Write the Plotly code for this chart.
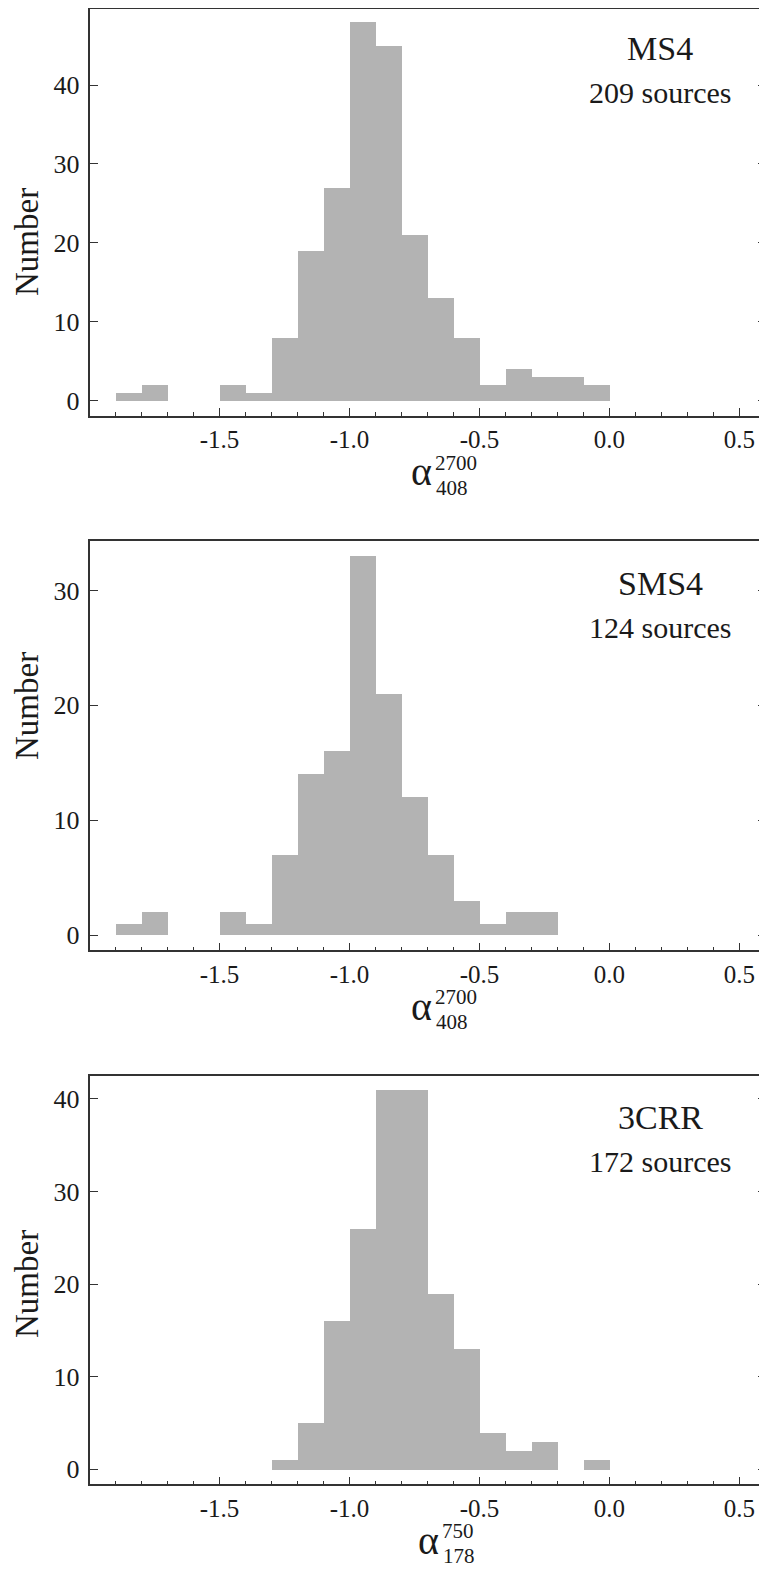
import plotly.graph_objects as go

# ---------------- data ----------------
bin_left = [-1.9, -1.8, -1.7, -1.6, -1.5, -1.4, -1.3, -1.2, -1.1, -1.0,
            -0.9, -0.8, -0.7, -0.6, -0.5, -0.4, -0.3, -0.2, -0.1]
bin_width = 0.1

ms4_counts = [1, 2, 0, 0, 2, 1, 8, 19, 27, 48, 45, 21, 13, 8, 2, 4, 3, 3, 2]
sms4_counts = [1, 2, 0, 0, 2, 1, 7, 14, 16, 33, 21, 12, 7, 3, 1, 2, 2, 0, 0]
crr_counts = [0, 0, 0, 0, 0, 0, 1, 5, 16, 26, 41, 41, 19, 13, 4, 2, 3, 0, 1]

panel_names = ["MS4", "SMS4", "3CRR"]
panel_sources = ["209 sources", "124 sources", "172 sources"]
panel_sup = ["2700", "2700", "750"]
panel_sub = ["408", "408", "178"]

x_major_vals = [-1.5, -1.0, -0.5, 0.0, 0.5]
x_major_text = ["-1.5", "-1.0", "-0.5", "0.0", "0.5"]
x_minor_vals = [round(-1.9 + 0.1 * i, 1) for i in range(25)]
y_tick_sets = [[0, 10, 20, 30, 40], [0, 10, 20, 30], [0, 10, 20, 30, 40]]
y_ranges = [[-1.9, 49.64], [-1.31, 34.3], [-1.62, 42.5]]
x_range = [-2.0, 0.606]

# ---------------- layout helpers ----------------
OFF = 8  # page body margin of the browser
W, H = 767 - OFF, 1569 - OFF
FONT = "Liberation Serif"
BAR_COLOR = "#b3b3b3"
AX_COLOR = "#333333"
TXT_COLOR = "#1a1a1a"

panels_px = [(9, 415.7), (541, 950.3), (1075.7, 1484.3)]  # (top, bottom) in window px
left_px = 89.5


def px_x(x):
    return (x - OFF) / W


def px_y(y):
    return 1 - (y - OFF) / H


fig = go.Figure()
all_counts = [ms4_counts, sms4_counts, crr_counts]
centers = [b + bin_width / 2 for b in bin_left]

annotations = []
ytitle_centers = [242, 706, 1284]
label_tops = [6, 541, 1075.7]
for i, counts in enumerate(all_counts):
    xa = "x" if i == 0 else f"x{i+1}"
    ya = "y" if i == 0 else f"y{i+1}"
    fig.add_trace(go.Bar(
        x=centers, y=counts, width=bin_width,
        marker=dict(color=BAR_COLOR, line=dict(width=0)),
        xaxis=xa, yaxis=ya, showlegend=False, hoverinfo="x+y",
    ))
    top, bottom = panels_px[i]
    xkey = "xaxis" if i == 0 else f"xaxis{i+1}"
    ykey = "yaxis" if i == 0 else f"yaxis{i+1}"
    fig.layout[xkey] = dict(
        domain=[px_x(left_px), 1.0], range=x_range, anchor=ya,
        automargin=False,
        showline=True, linecolor=AX_COLOR, linewidth=1.5, mirror=True,
        showgrid=False, zeroline=False,
        tickmode="array", tickvals=x_major_vals, ticktext=x_major_text,
        ticks="inside", ticklen=8, tickwidth=1, tickcolor=AX_COLOR,
        minor=dict(tickmode="array", tickvals=x_minor_vals, ticks="inside",
                   ticklen=4, tickwidth=1, tickcolor=AX_COLOR, showgrid=False),
        tickfont=dict(family=FONT, size=25, color=TXT_COLOR),
        ticklabelstandoff=1,
        fixedrange=True,
    )
    fig.layout[ykey] = dict(
        domain=[px_y(bottom), min(1.0, px_y(top))], range=y_ranges[i], anchor=xa,
        automargin=False,
        showline=True, linecolor=AX_COLOR, linewidth=1.5, mirror="ticks",
        showgrid=False, zeroline=False,
        tickmode="array", tickvals=y_tick_sets[i],
        ticks="inside", ticklen=9, tickwidth=1, tickcolor=AX_COLOR,
        tickfont=dict(family=FONT, size=26, color=TXT_COLOR),
        ticklabelstandoff=3,
        fixedrange=True,
    )

    lt = label_tops[i]
    # Panel labels
    annotations.append(dict(
        text=panel_names[i], x=px_x(660), y=px_y(lt + 42),
        xref="paper", yref="paper", xanchor="center", yanchor="middle",
        showarrow=False, borderpad=0,
        font=dict(family=FONT, size=34, color=TXT_COLOR)))
    annotations.append(dict(
        text=panel_sources[i], x=px_x(660), y=px_y(lt + 86),
        xref="paper", yref="paper", xanchor="center", yanchor="middle",
        showarrow=False, borderpad=0,
        font=dict(family=FONT, size=30, color=TXT_COLOR)))

    # y-axis title
    annotations.append(dict(
        text="Number", x=px_x(27), y=px_y(ytitle_centers[i]),
        xref="paper", yref="paper", xanchor="center", yanchor="middle",
        textangle=-90, showarrow=False, borderpad=0,
        font=dict(family=FONT, size=33, color=TXT_COLOR)))

    # x-axis title: alpha with stacked super/subscript
    alpha_right = [433, 433, 440][i]
    annotations.append(dict(
        text="α", x=px_x(alpha_right), y=px_y(bottom + 56),
        xref="paper", yref="paper", xanchor="right", yanchor="middle",
        showarrow=False, borderpad=0,
        font=dict(family=FONT, size=40, color=TXT_COLOR)))
    annotations.append(dict(
        text=panel_sup[i], x=px_x(alpha_right + 1), y=px_y(bottom + 47),
        xref="paper", yref="paper", xanchor="left", yanchor="middle",
        showarrow=False, borderpad=0,
        font=dict(family=FONT, size=21, color=TXT_COLOR)))
    annotations.append(dict(
        text=panel_sub[i], x=px_x(alpha_right + 2), y=px_y(bottom + 72),
        xref="paper", yref="paper", xanchor="left", yanchor="middle",
        showarrow=False, borderpad=0,
        font=dict(family=FONT, size=21, color=TXT_COLOR)))

fig.update_layout(
    width=W, height=H,
    margin=dict(l=0, r=0, t=0, b=0, autoexpand=False),
    paper_bgcolor="white", plot_bgcolor="white",
    bargap=0, barmode="overlay",
    annotations=annotations,
    font=dict(family=FONT, color=TXT_COLOR),
)

fig.write_html("out.html")
